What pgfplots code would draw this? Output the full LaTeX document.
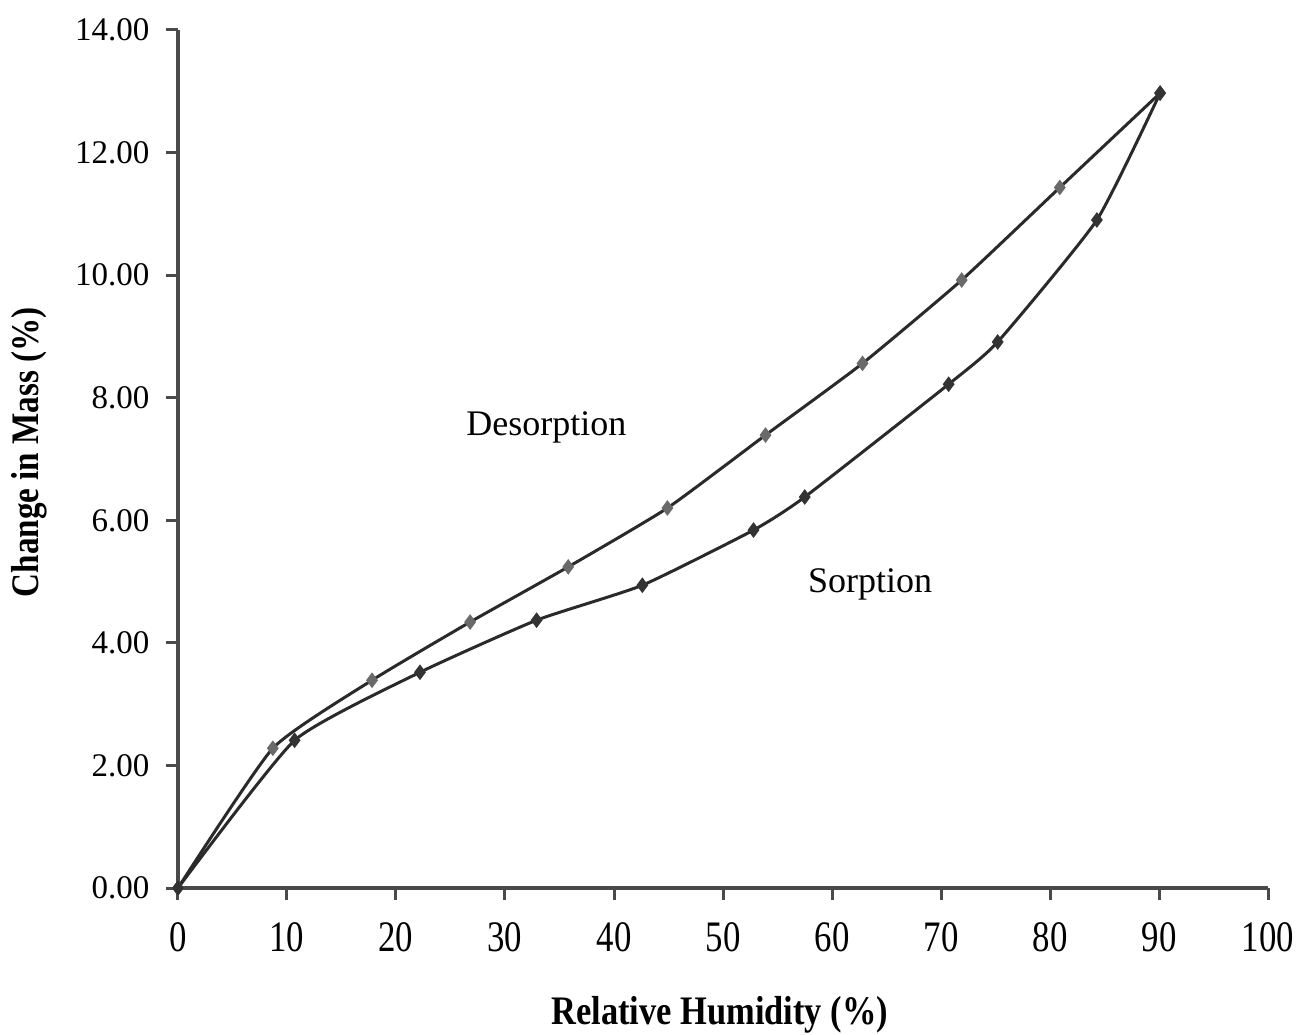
\documentclass[border=0pt]{standalone}
\usepackage{pgfplots}
\pgfplotsset{compat=1.18}
\usepackage{fontspec}
\setmainfont{Liberation Serif}
\newfontfamily\narrowfont[FakeStretch=0.8]{Liberation Serif}
\newfontfamily\narrowbold[FakeStretch=0.85]{Liberation Serif Bold}
\definecolor{linec}{HTML}{2A2A2A}
\definecolor{desm}{HTML}{6A6A6A}
\definecolor{sorm}{HTML}{333333}
\definecolor{axc}{HTML}{4A4A4A}
\begin{document}
\begin{tikzpicture}
\useasboundingbox (-59.33pt,-48.67pt) rectangle (373.0pt,296pt);
\begin{axis}[
  anchor=south west, at={(0,0)},
  width=363.33pt, height=286pt, scale only axis,
  xmin=0, xmax=100, ymin=0, ymax=14,
  axis lines=left,
  axis line style={axc, line width=1.2pt, -},
  xtick={0,10,...,100}, ytick={0,2,...,14},
  tick align=outside, tick style={axc, line width=1pt},
  major tick length=4pt,
  clip=false,
  /pgf/number format/assume math mode=true,
  yticklabel={\pgfmathprintnumber[fixed,fixed zerofill,precision=2]{\tick}},
  yticklabel style={font=\fontsize{11}{12}\selectfont, xshift=-2pt},
  xticklabel style={font=\narrowfont\fontsize{14.5}{15}\selectfont, yshift=-4pt},
  xlabel={Relative Humidity (\%)},
  ylabel={Change in Mass (\%)},
  xlabel style={font=\narrowbold\fontsize{13.5}{14}\selectfont, at={(rel axis cs:0.497,-0.148)}, anchor=center},
  ylabel style={font=\narrowbold\fontsize{13}{14}\selectfont, at={(rel axis cs:-0.136,0.508)}, anchor=center, rotate=0},
]
\addplot[linec, line width=1pt, smooth, tension=0.3, mark=diamond*, mark size=1.8pt, mark options={fill=desm, draw=desm}]
  coordinates {(0,0) (8.7,2.28) (17.8,3.39) (26.8,4.34) (35.8,5.24) (44.9,6.2) (53.9,7.39) (62.8,8.56) (71.9,9.92) (80.9,11.43) (90.1,12.97)};
\addplot[linec, line width=1pt, smooth, tension=0.3, mark=diamond*, mark size=1.8pt, mark options={fill=sorm, draw=sorm}]
  coordinates {(0,0) (10.7,2.41) (22.2,3.52) (32.9,4.37) (42.6,4.94) (52.8,5.84) (57.5,6.38) (70.7,8.22) (75.2,8.91) (84.3,10.9) (90.1,12.97)};
\node[font=\fontsize{12}{14}\selectfont] at (axis cs:33.8,7.52) {Desorption};
\node[font=\fontsize{12}{14}\selectfont] at (axis cs:63.5,4.96) {Sorption};
\end{axis}
\end{tikzpicture}
\end{document}
